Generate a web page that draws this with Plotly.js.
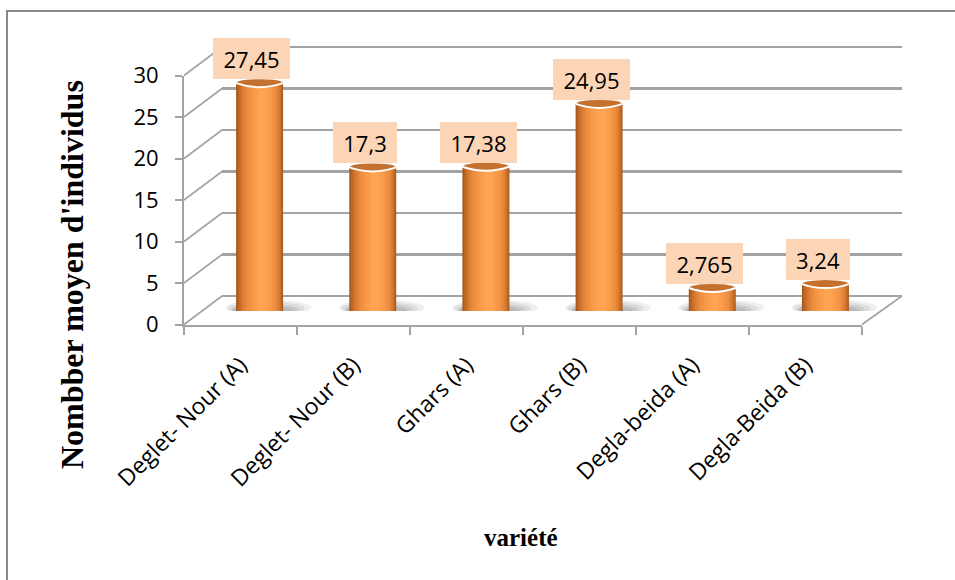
<!DOCTYPE html>
<html>
<head>
<meta charset="utf-8">
<script src="https://cdn.plot.ly/plotly-3.0.1.min.js"></script>
<style>html,body{margin:0;padding:0;background:#fff}</style>
</head>
<body>
<div id="chart" style="width:955px;height:580px"></div>
<script>
// ---- data ----
const varieties = ['Deglet- Nour (A)', 'Deglet- Nour (B)', 'Ghars (A)', 'Ghars (B)', 'Degla-beida (A)', 'Degla-Beida (B)'];
const meanCounts = [27.45, 17.3, 17.38, 24.95, 2.765, 3.24];
const yTickValues = [0, 5, 10, 15, 20, 25, 30];
const yTitle = "Nombber moyen d'individus";
const xTitle = 'variété';

// value labels use a decimal comma
const valueLabels = meanCounts.map(v => String(v).replace('.', ','));
const positions = varieties.map((_, i) => i);

// ---- pseudo-3D geometry (pixels) ----
const W = 955, H = 580;
const PX_PER_UNIT = 8.3;
const Y_MAX = 30;
const front = {left: 184, right: 862, zero: 324.5};   // front plane: axes, ticks
const back  = {left: 222, right: 902, zero: 296};     // back wall: gridlines
const mid   = {left: 203, right: 882, zero: 311};     // mid depth: cylinders
const px2x = p => p / W;
const px2y = p => 1 - p / H;
const yDomain = (plane, lo, hi) => [px2y(plane.zero - lo * PX_PER_UNIT), px2y(plane.zero - hi * PX_PER_UNIT)];

const AXIS_GREY = '#A3A3A3';
const LABEL_FONT = {family: 'Open Sans', size: 22, color: '#000'};
const CAT_FONT = {family: 'Open Sans', size: 23, color: '#000'};
const TITLE_FONT = {family: 'Liberation Serif', color: '#000', weight: 'bold'};

// cylinder shading: nested vertical bands, dark at the rims, light slightly right of centre
const CYL_WIDTH = 0.415;
const bands = [
  {f: 1.00, s: 0.000, c: '#A5591F'},
  {f: 0.95, s: 0.003, c: '#B96524'},
  {f: 0.89, s: 0.006, c: '#C96F2A'},
  {f: 0.82, s: 0.009, c: '#D77A31'},
  {f: 0.74, s: 0.012, c: '#E28438'},
  {f: 0.65, s: 0.015, c: '#EB8C3E'},
  {f: 0.55, s: 0.018, c: '#F29344'},
  {f: 0.44, s: 0.020, c: '#F79948'},
  {f: 0.32, s: 0.022, c: '#FB9E4C'},
  {f: 0.18, s: 0.023, c: '#FFA452'}
];
const ELL = 4 / PX_PER_UNIT;   // ellipse half-height in value units

const traces = [];
// front axes carrier (invisible)
traces.push({type: 'scatter', x: varieties, y: meanCounts, xaxis: 'x', yaxis: 'y',
  mode: 'markers', marker: {opacity: 0}, hoverinfo: 'skip', showlegend: false});
// back wall carrier (no points)
traces.push({type: 'scatter', x: [], y: [], xaxis: 'x2', yaxis: 'y2', hoverinfo: 'skip', showlegend: false});
// cylinders
bands.forEach(b => {
  const w = CYL_WIDTH * b.f;
  traces.push({type: 'bar', x: positions, y: meanCounts, xaxis: 'x3', yaxis: 'y3',
    width: w, offset: b.s - w / 2, marker: {color: b.c, line: {width: 0}},
    hoverinfo: 'skip', showlegend: false});
});

const shapes = [];
// frame
shapes.push({type: 'line', xref: 'paper', yref: 'paper', x0: px2x(7), x1: px2x(7), y0: px2y(11), y1: px2y(582),
  line: {color: '#8A8A8A', width: 2}});
shapes.push({type: 'line', xref: 'paper', yref: 'paper', x0: px2x(6), x1: px2x(960), y0: px2y(11), y1: px2y(11),
  line: {color: '#8A8A8A', width: 2}});
// side wall lines joining the front ticks to the back wall
yTickValues.forEach(t => {
  shapes.push({type: 'line', xref: 'paper', yref: 'paper',
    x0: px2x(front.left), y0: px2y(front.zero - t * PX_PER_UNIT),
    x1: px2x(back.left), y1: px2y(back.zero - t * PX_PER_UNIT),
    line: {color: AXIS_GREY, width: 1.6}});
});
// right edge of the floor
shapes.push({type: 'line', xref: 'paper', yref: 'paper',
  x0: px2x(front.right), y0: px2y(front.zero), x1: px2x(back.right), y1: px2y(back.zero),
  line: {color: AXIS_GREY, width: 1.6}});

// soft floor shadow: stacked translucent ellipses, widest and faintest first
const shadowSteps = [
  {hw: 0.38, dx: 0.08, lo: -1.1, hi: 2.8, a: 0.10},
  {hw: 0.34, dx: 0.06, lo: -1.0, hi: 2.3, a: 0.12},
  {hw: 0.30, dx: 0.05, lo: -0.9, hi: 1.8, a: 0.14},
  {hw: 0.27, dx: 0.03, lo: -0.8, hi: 1.3, a: 0.16}
];

meanCounts.forEach((v, i) => {
  const a = CYL_WIDTH / 2;
  shadowSteps.forEach(s => {
    shapes.push({type: 'circle', xref: 'x3', yref: 'y3', layer: 'between',
      x0: i - s.hw + s.dx, x1: i + s.hw + s.dx, y0: s.lo * ELL, y1: s.hi * ELL,
      fillcolor: `rgba(100,100,100,${s.a})`, line: {width: 0}});
  });
  // rounded base, band by band
  bands.forEach(b => {
    const w = CYL_WIDTH * b.f;
    shapes.push({type: 'circle', xref: 'x3', yref: 'y3', layer: 'between',
      x0: i + b.s - w / 2, x1: i + b.s + w / 2, y0: -ELL, y1: ELL,
      fillcolor: b.c, line: {width: 0}});
  });
  // top face
  shapes.push({type: 'circle', xref: 'x3', yref: 'y3', layer: 'above',
    x0: i - a, x1: i + a, y0: v - ELL, y1: v + ELL,
    fillcolor: '#C4702E', line: {width: 0}});
  // light rim on the front edge of the top face
  shapes.push({type: 'path', xref: 'x3', yref: 'y3', layer: 'above',
    path: `M ${i - a},${v} Q ${i},${v - 2 * ELL} ${i + a},${v}`,
    line: {color: '#FFFFFF', width: 2}});
});

const annotations = meanCounts.map((v, i) => ({
  xref: 'x3', yref: 'y3', x: i - 0.07, y: v, yanchor: 'bottom', yshift: 4,
  text: valueLabels[i], showarrow: false, font: LABEL_FONT,
  bgcolor: '#FBD5B5', borderwidth: 0, borderpad: 0,
  width: valueLabels[i].length * 13 + 12, height: 41, align: 'center', valign: 'middle'
}));
annotations.push({xref: 'paper', yref: 'paper', x: px2x(72), y: px2y(275), text: yTitle, textangle: -90,
  showarrow: false, font: Object.assign({size: 32}, TITLE_FONT), xanchor: 'center', yanchor: 'middle'});
annotations.push({xref: 'paper', yref: 'paper', x: px2x(521), y: px2y(537), text: xTitle,
  showarrow: false, font: Object.assign({size: 25}, TITLE_FONT), xanchor: 'center', yanchor: 'middle'});

const layout = {
  width: W, height: H,
  margin: {l: 0, r: 0, t: 0, b: 0},
  paper_bgcolor: '#FFFFFF', plot_bgcolor: 'rgba(0,0,0,0)',
  barmode: 'overlay', showlegend: false,
  xaxis: {domain: [px2x(front.left), px2x(front.right)], type: 'category', categoryarray: varieties,
    range: [-0.5, varieties.length - 0.5], anchor: 'y',
    showline: true, linecolor: AXIS_GREY, linewidth: 2,
    ticks: 'outside', tickson: 'boundaries', ticklen: 8, tickwidth: 2, tickcolor: AXIS_GREY,
    tickangle: -45, tickfont: CAT_FONT, ticklabelstandoff: 16,
    showgrid: false, zeroline: false, fixedrange: true},
  yaxis: {domain: yDomain(front, 0, Y_MAX), range: [0, Y_MAX], anchor: 'x',
    tickvals: yTickValues, ticks: 'outside', ticklen: 7, tickwidth: 2, tickcolor: AXIS_GREY,
    showline: true, linecolor: AXIS_GREY, linewidth: 2, showgrid: false, zeroline: false,
    tickfont: LABEL_FONT, ticklabelstandoff: 12, fixedrange: true},
  xaxis2: {domain: [px2x(back.left), px2x(back.right)], range: [0, 1], anchor: 'y2', visible: false},
  yaxis2: {domain: yDomain(back, -0.5, Y_MAX + 0.5), range: [-0.5, Y_MAX + 0.5], anchor: 'x2',
    tickvals: yTickValues, showgrid: true, gridcolor: AXIS_GREY, gridwidth: 2.5,
    showticklabels: false, ticks: '', zeroline: false, showline: false},
  xaxis3: {domain: [px2x(mid.left), px2x(mid.right)], range: [-0.5, varieties.length - 0.5], anchor: 'y3', visible: false},
  yaxis3: {domain: yDomain(mid, 0, Y_MAX), range: [0, Y_MAX], anchor: 'x3', visible: false},
  shapes: shapes,
  annotations: annotations
};

Plotly.newPlot('chart', traces, layout, {displayModeBar: false, staticPlot: true});
</script>
</body>
</html>
